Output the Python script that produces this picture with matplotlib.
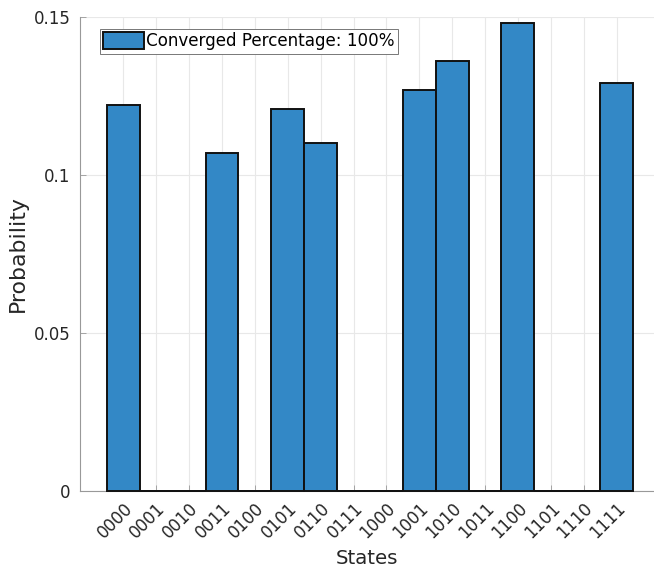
import numpy as np
import matplotlib.pyplot as plt

# Probability per measured 4-qubit state
states = ['0000', '0001', '0010', '0011', '0100', '0101', '0110', '0111',
          '1000', '1001', '1010', '1011', '1100', '1101', '1110', '1111']
probs = [0.122, 0, 0, 0.107, 0, 0.121, 0.110, 0,
         0, 0.127, 0.136, 0, 0.148, 0, 0, 0.129]
yticks = [0, 0.05, 0.1, 0.15]
ytick_labels = ['0', '0.05', '0.1', '0.15']

plt.rcParams['font.family'] = 'DejaVu Sans'
txtcol = '#262626'
axcol = '#999999'

fig = plt.figure(figsize=(6.54, 5.68), dpi=100)
ax = fig.add_axes([0.1223, 0.1356, 0.8777, 0.8345])

x = np.arange(len(states))
bars = ax.bar(x, probs, width=1.0, color='#3388c6', edgecolor='#111111', linewidth=1.4,
              label='Converged Percentage: 100%', zorder=3)
# empty bars still show their outline along the baseline
for b in bars:
    b.set_clip_on(False)
    if b.get_height() == 0:
        ax.plot([b.get_x(), b.get_x() + b.get_width()], [0, 0], color='#111111',
                lw=1.4, solid_capstyle='butt', zorder=3, clip_on=False)

ax.set_xlim(-1.32, 16.14)
ax.set_ylim(0, 0.15)
ax.set_xticks(x)
ax.set_xticklabels(states, rotation=45, ha='right', va='top', rotation_mode='anchor',
                   fontsize=12, color=txtcol)
ax.set_yticks(yticks)
ax.set_yticklabels(ytick_labels, fontsize=12, color=txtcol)
ax.tick_params(direction='in', length=4, width=0.6, color=axcol)
ax.tick_params(axis='x', pad=6)
ax.tick_params(axis='y', pad=7)

ax.grid(True, color='#e8e8e8', linewidth=0.8, zorder=0)
ax.set_axisbelow(True)
for s in ['top', 'right']:
    ax.spines[s].set_visible(False)
for s in ['left', 'bottom']:
    ax.spines[s].set_color(axcol)
    ax.spines[s].set_linewidth(0.8)

ax.set_xlabel('States', fontsize=14.2, color=txtcol, labelpad=5)
ax.set_ylabel('Probability', fontsize=15.8, color=txtcol, labelpad=4)

leg = ax.legend(loc='upper left', bbox_to_anchor=(0.035, 0.975), fontsize=12.1,
                fancybox=False, framealpha=1, edgecolor='#777777',
                handlelength=2.4, handleheight=1.2, handletextpad=0.15,
                borderpad=0.2, borderaxespad=0)
leg.get_frame().set_linewidth(0.7)

fig.savefig('out.png', dpi=100)
